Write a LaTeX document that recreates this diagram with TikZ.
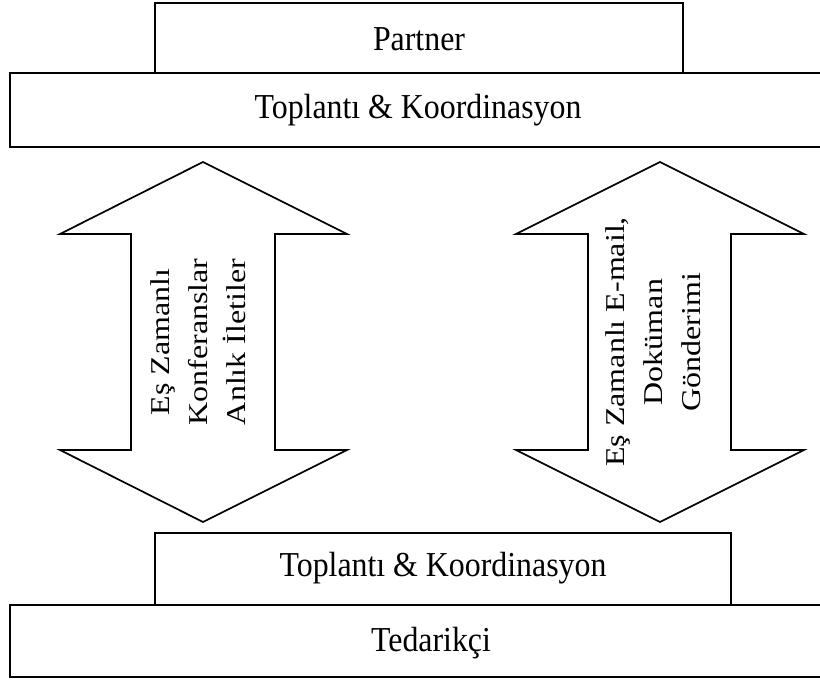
\documentclass[tikz,border=0pt]{standalone}
\usepackage{graphicx}
\usepackage{fontspec}
\setmainfont{Liberation Serif}
% horizontal labels: slightly narrowed type
\newcommand{\hlabel}[1]{\scalebox{0.91}[1]{\fontsize{17.5}{21}\selectfont #1}}
% vertical labels: stacked lines, flattened across the lines
\newcommand{\vlabel}[1]{\scalebox{1}[0.85]{\fontsize{16}{22.4}\selectfont
  \begin{tabular}{@{}c@{}}#1\end{tabular}}}
\begin{document}
\begin{tikzpicture}[x=0.5pt,y=-0.5pt,
  line width=0.85pt,
  box/.style={draw=black},
  lbl/.style={inner sep=0pt},
  dblarrow/.style={draw=black, fill=white, line join=miter}]
\clip (0,0) rectangle (820,681);

% stacked boxes at the top
\draw[box] (155,3) rectangle (683,73);
\draw[box] (10,73) rectangle (830,147);
\node[lbl] (partner) at (419,39) {\hlabel{Partner}};
\node[lbl] (toptk) at (418,110) {\hlabel{Toplantı \& Koordinasyon}};

% stacked boxes at the bottom
\draw[box] (155,533) rectangle (731,605);
\draw[box] (10,605) rectangle (852,677);
\node[lbl] (bottk) at (443,568) {\hlabel{Toplantı \& Koordinasyon}};
\node[lbl] (tedarik) at (431,643) {\hlabel{Tedarikçi}};

% two-headed block arrows
\draw[dblarrow] (203,162) -- (347,234) -- (275,234) -- (275,450) -- (347,450)
  -- (203,522) -- (60,450) -- (131,450) -- (131,234) -- (60,234) -- cycle;
\draw[dblarrow] (660,162) -- (804,234) -- (731,234) -- (731,450) -- (804,450)
  -- (660,522) -- (516,450) -- (588,450) -- (588,234) -- (516,234) -- cycle;

\node[lbl, rotate=90] (sync) at (200,342) {\vlabel{Eş Zamanlı\\Konferanslar\\Anlık İletiler}};
\node[lbl, rotate=90] (mail) at (655,342) {\vlabel{Eş Zamanlı E-mail,\\Doküman\\Gönderimi}};
\end{tikzpicture}
\end{document}
